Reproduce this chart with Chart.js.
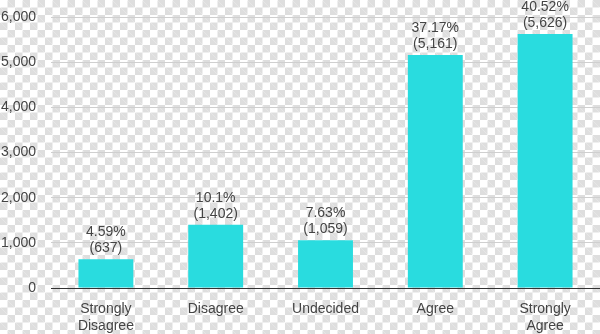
<!DOCTYPE html>
<html>
<head>
<meta charset="utf-8">
<script src="https://cdn.jsdelivr.net/npm/chart.js@4.4.1/dist/chart.umd.min.js"></script>
<style>
  html, body { margin: 0; padding: 0; }
  body {
    width: 600px; height: 334px; overflow: hidden;
    background-color: #ffffff;
    background-image:
      linear-gradient(45deg, #dedede 25%, transparent 25%, transparent 75%, #dedede 75%),
      linear-gradient(45deg, #dedede 25%, transparent 25%, transparent 75%, #dedede 75%);
    background-size: 15px 15px;
    background-position: 0 0, 7.5px 7.5px;
  }
  #wrap { position: relative; width: 600px; height: 334px; }
</style>
</head>
<body>
<div id="wrap"><canvas id="c" width="600" height="334"></canvas></div>
<script>
const categories = [["Strongly", "Disagree"], "Disagree", "Undecided", "Agree", ["Strongly", "Agree"]];
const counts = [637, 1402, 1059, 5161, 5626];
const percents = ["4.59%", "10.1%", "7.63%", "37.17%", "40.52%"];
const countLabels = ["(637)", "(1,402)", "(1,059)", "(5,161)", "(5,626)"];
const yTicks = [0, 1000, 2000, 3000, 4000, 5000, 6000];

const FONT = "'Liberation Sans', Arial, sans-serif";
const TEXT = "#444444";

const barLabels = {
  id: 'barLabels',
  afterDatasetsDraw(chart) {
    const ctx = chart.ctx;
    const meta = chart.getDatasetMeta(0);
    ctx.save();
    ctx.font = "14px " + FONT;
    ctx.fillStyle = TEXT;
    ctx.textAlign = "center";
    ctx.textBaseline = "middle";
    meta.data.forEach((bar, i) => {
      ctx.fillText(countLabels[i], bar.x, bar.y - 11);
      ctx.fillText(percents[i], bar.x, bar.y - 27);
    });
    ctx.restore();
  }
};

new Chart(document.getElementById('c'), {
  type: 'bar',
  data: {
    labels: categories,
    datasets: [{
      data: counts,
      backgroundColor: '#29dcdf',
      borderWidth: 0,
      barPercentage: 0.5,
      categoryPercentage: 1.0
    }]
  },
  options: {
    responsive: false,
    animation: false,
    devicePixelRatio: 1,
    layout: { padding: { top: 17, right: 0, left: 0, bottom: 0 } },
    plugins: { legend: { display: false }, tooltip: { enabled: false } },
    scales: {
      x: {
        grid: { display: false, drawTicks: false },
        border: { display: true, color: '#333333', width: 1 },
        ticks: { color: TEXT, font: { family: FONT, size: 14 }, padding: 13, maxRotation: 0, autoSkip: false },
        afterFit(s) { s.height = 46; s.paddingLeft = 0; s.paddingRight = 0; }
      },
      y: {
        min: 0, max: 6000,
        afterBuildTicks(s) { s.ticks = yTicks.map(v => ({ value: v })); },
        grid: { color: '#cfcfcf', lineWidth: 1, drawTicks: false },
        border: { display: false },
        ticks: {
          color: TEXT, font: { family: FONT, size: 14 }, padding: 15,
          callback: v => v.toLocaleString('en-US')
        },
        afterFit(s) { s.width = 51; s.paddingTop = 0; s.paddingBottom = 0; }
      }
    }
  },
  plugins: [barLabels]
});
</script>
</body>
</html>
